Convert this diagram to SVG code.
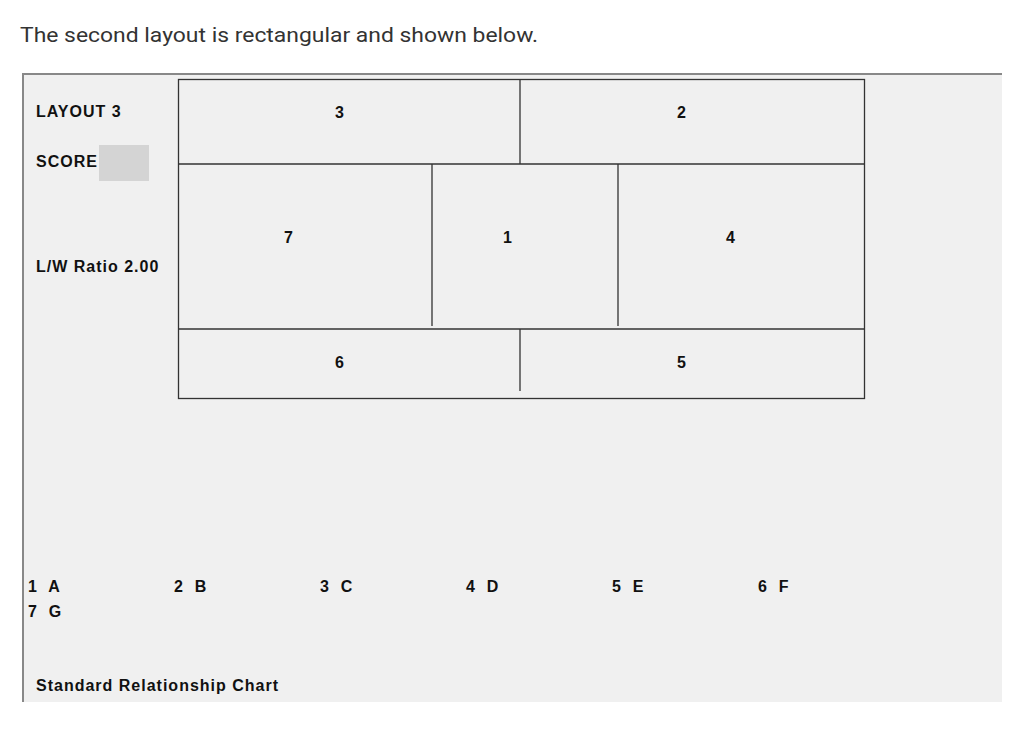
<svg xmlns="http://www.w3.org/2000/svg" width="1024" height="736" viewBox="0 0 1024 736">
<style>
.t{font-family:"Liberation Sans",Arial,sans-serif;font-size:16px;font-weight:bold;fill:#111;letter-spacing:1px}
.l{stroke:#333;stroke-width:1.3;fill:none}
</style>
<rect width="1024" height="736" fill="#fff"/>
<text x="20" y="42" font-family="Roboto,sans-serif" font-size="20" fill="#333" textLength="518" lengthAdjust="spacingAndGlyphs">The second layout is rectangular and shown below.</text>
<g id="panel">
<rect x="22" y="73" width="980" height="629" fill="#f0f0f0"/>
<path d="M23 702V74H1002" stroke="#888" stroke-width="2" fill="none"/>
<text class="t" x="36" y="117">LAYOUT 3</text>
<text class="t" x="36" y="167">SCORE</text>
<rect x="99" y="145" width="50" height="36" fill="#d4d4d4"/>
<text class="t" x="36" y="272">L/W Ratio 2.00</text>
</g>
<g id="layout">
<rect class="l" x="178.5" y="79.5" width="686" height="319"/>
<path class="l" d="M178 164H865M178 329H865M520 79V164M432 164V326M618 164V326M520 329V391"/>
</g>
<g id="labels">
<text class="t" x="335" y="118">3</text>
<text class="t" x="677" y="118">2</text>
<text class="t" x="284" y="243">7</text>
<text class="t" x="503" y="243">1</text>
<text class="t" x="726" y="243">4</text>
<text class="t" x="335" y="368">6</text>
<text class="t" x="677" y="368">5</text>
</g>
<g id="legend">
<text class="t" x="28" y="592" xml:space="preserve">1  A</text>
<text class="t" x="174" y="592" xml:space="preserve">2  B</text>
<text class="t" x="320" y="592" xml:space="preserve">3  C</text>
<text class="t" x="466" y="592" xml:space="preserve">4  D</text>
<text class="t" x="612" y="592" xml:space="preserve">5  E</text>
<text class="t" x="758" y="592" xml:space="preserve">6  F</text>
<text class="t" x="28" y="617" xml:space="preserve">7  G</text>
<text class="t" x="36" y="691">Standard Relationship Chart</text>
</g>
</svg>
